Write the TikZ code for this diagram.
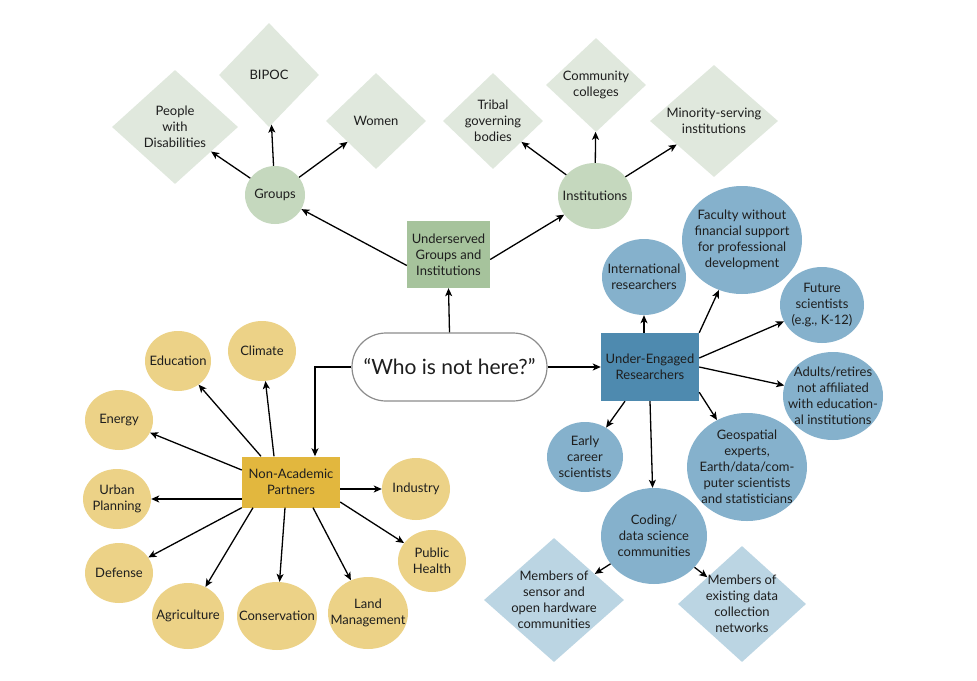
\documentclass[tikz,border=0pt]{standalone}
\usepackage{fontspec}
\setmainfont{Lato}
\usetikzlibrary{shapes.geometric,arrows.meta,calc}
\definecolor{gdia}{RGB}{224,232,221}
\definecolor{gcir}{RGB}{197,216,190}
\definecolor{grec}{RGB}{166,195,156}
\definecolor{ycir}{RGB}{236,210,135}
\definecolor{yrec}{RGB}{226,183,62}
\definecolor{bcir}{RGB}{133,177,204}
\definecolor{brec}{RGB}{78,138,175}
\definecolor{bdia}{RGB}{187,213,227}
\definecolor{txt}{RGB}{30,30,30}
\begin{document}
\begin{tikzpicture}[x=1pt,y=-1pt,
  every node/.style={font=\fontsize{13}{16}\selectfont, align=center, text=txt, inner sep=0pt},
  dshape/.style={diamond, aspect=1, draw=none},
  eshape/.style={ellipse, draw=none},
  rshape/.style={rectangle, draw=none},
  lbl/.style={},
  arr/.style={-{Stealth[length=8pt,width=7pt,inset=2pt]}, line width=1.3pt, black}]
\useasboundingbox (0,0) rectangle (977,680);
\fill[white] (0,0) rectangle (977,680);

% ---------- green part ----------
\node[dshape, fill=gdia, minimum width=126, minimum height=114] (pwd) at (175,127) {};
\node[lbl] (pwdt) at (pwd) {People\\with\\Disabilities};
\node[dshape, fill=gdia, minimum width=100, minimum height=104] (bip) at (269,75) {};
\node[lbl] (bipt) at (bip) {BIPOC};
\node[dshape, fill=gdia, minimum width=100, minimum height=96] (wom) at (376,121) {};
\node[lbl] (womt) at (wom) {Women};
\node[dshape, fill=gdia, minimum width=100, minimum height=96] (tri) at (493,121) {};
\node[lbl] (trit) at (tri) {Tribal\\governing\\bodies};
\node[dshape, fill=gdia, minimum width=100, minimum height=94] (com) at (596,85) {};
\node[lbl] (comt) at (com) {Community\\colleges};
\node[dshape, fill=gdia, minimum width=128, minimum height=112] (msi) at (714,121) {};
\node[lbl] (msit) at (msi) {Minority-serving\\institutions};

\node[eshape, fill=gcir, minimum width=60, minimum height=58] (grp) at (275,195) {};
\node[lbl] (grpt) at (grp) {Groups};
\node[eshape, fill=gcir, minimum width=74, minimum height=66] (ins) at (595,196) {};
\node[lbl] (inst) at (ins) {Institutions};
\node[rshape, fill=grec, minimum width=83, minimum height=67] (ugi) at (448.5,254.5) {Underserved\\Groups and\\Institutions};

% ---------- centre ----------
\node[rectangle, rounded corners=34pt, draw=black!45, line width=1.2pt, fill=white,
      minimum width=195, minimum height=68, font=\fontsize{21}{25}\selectfont] (who) at (449.5,367) {“Who is not here?”};
\node[rshape, fill=brec, minimum width=98, minimum height=68] (uer) at (650,367) {Under-Engaged\\Researchers};
\node[rshape, fill=yrec, minimum width=98, minimum height=51] (nap) at (291,482) {Non-Academic\\Partners};

% ---------- yellow part ----------
\node[eshape, fill=ycir, minimum width=66, minimum height=60] (edu) at (178,361) {};
\node[lbl] (edut) at (edu) {Education};
\node[eshape, fill=ycir, minimum width=68, minimum height=60] (cli) at (262,351) {};
\node[lbl] (clit) at (cli) {Climate};
\node[eshape, fill=ycir, minimum width=68, minimum height=60] (ene) at (119,420) {};
\node[lbl] (enet) at (ene) {Energy};
\node[eshape, fill=ycir, minimum width=68, minimum height=60] (urb) at (117,499) {};
\node[lbl] (urbt) at (urb) {Urban\\Planning};
\node[eshape, fill=ycir, minimum width=68, minimum height=60] (def) at (119,573) {};
\node[lbl] (deft) at (def) {Defense};
\node[eshape, fill=ycir, minimum width=72, minimum height=66] (agr) at (188,616) {};
\node[lbl] (agrt) at (agr) {Agriculture};
\node[eshape, fill=ycir, minimum width=80, minimum height=68] (con) at (277,616) {};
\node[lbl] (cont) at (con) {Conservation};
\node[eshape, fill=ycir, minimum width=80, minimum height=72] (lan) at (368,613) {};
\node[lbl] (lant) at (lan) {Land\\Management};
\node[eshape, fill=ycir, minimum width=68, minimum height=62] (pub) at (432,561) {};
\node[lbl] (pubt) at (pub) {Public\\Health};
\node[eshape, fill=ycir, minimum width=68, minimum height=62] (ind) at (416,489) {};
\node[lbl] (indt) at (ind) {Industry};

% ---------- blue part ----------
\node[eshape, fill=bcir, minimum width=84, minimum height=76] (int) at (644,277) {};
\node[lbl] (intt) at (int) {International\\researchers};
\node[eshape, fill=bcir, minimum width=120, minimum height=108] (fac) at (742,240) {};
\node[lbl] (fact) at (fac) {Faculty without\\financial support\\for professional\\development};
\node[eshape, fill=bcir, minimum width=84, minimum height=76] (fut) at (822,305) {};
\node[lbl] (futt) at (fut) {Future\\scientists\\(e.g., K-12)};
\node[eshape, fill=bcir, minimum width=100, minimum height=88] (adu) at (833,396) {};
\node[lbl] (adut) at (adu) {Adults/retires\\not affiliated\\with education-\\al institutions};
\node[eshape, fill=bcir, minimum width=120, minimum height=108] (geo) at (747,467) {};
\node[lbl] (geot) at (geo) {Geospatial\\experts,\\Earth/data/com-\\puter scientists\\and statisticians};
\node[eshape, fill=bcir, minimum width=76, minimum height=70] (ear) at (585,457) {};
\node[lbl] (eart) at (ear) {Early\\career\\scientists};
\node[eshape, fill=bcir, minimum width=106, minimum height=96] (cod) at (654,536) {};
\node[lbl] (codt) at (cod) {Coding/\\data science\\communities};
\node[dshape, fill=bdia, minimum width=140, minimum height=124] (sen) at (554,600) {};
\node[lbl] (sent) at (sen) {Members of\\sensor and\\open hardware\\communities};
\node[dshape, fill=bdia, minimum width=128, minimum height=116] (exi) at (742,604) {};
\node[lbl] (exit) at (exi) {Members of\\existing data\\collection\\networks};

% ---------- connectors ----------
\draw[arr] (grp) -- (pwd);
\draw[arr] (grp) -- (bip);
\draw[arr] (grp) -- (wom);
\draw[arr] (ins) -- (tri);
\draw[arr] (ins) -- (com);
\draw[arr] (ins) -- (msi);
\draw[arr] ([yshift=-11]ugi.west) -- (grp);
\draw[arr] ([yshift=-5]ugi.east) -- (ins);
\draw[arr] (who.north) -- (ugi.south);
\draw[arr] (who.east) -- (uer.west);
\draw[arr] (who.west) -| ($(nap.north)+(24,0)$);

\draw[arr] ([xshift=-30]nap.north) -- (edu);
\draw[arr] ([xshift=-17]nap.north) -- (cli);
\draw[arr] ([yshift=12]nap.west) -- (ene);
\draw[arr] (nap.west |- urb) -- (urb);
\draw[arr] (nap.south west) -- (def);
\draw[arr] ([xshift=-38]nap.south) -- (agr);
\draw[arr] ([xshift=-6]nap.south) -- (con);
\draw[arr] ([xshift=22]nap.south) -- (lan);
\draw[arr] ([yshift=-20]nap.east) -- (pub);
\draw[arr] (nap.east |- ind) -- (ind);

\draw[arr] (uer.north -| int.south) -- (int.south);
\draw[arr] (uer.north east) -- (fac);
\draw[arr] ([yshift=9]uer.east) -- (fut);
\draw[arr] (uer.east) -- (adu);
\draw[arr] ([yshift=9]uer.south east) -- (geo);
\draw[arr] ([xshift=-25]uer.south) -- (ear);
\draw[arr] (uer.south) -- (cod);
\draw[arr] (cod) -- (sen);
\draw[arr] (cod) -- (exi);
\end{tikzpicture}
\end{document}
